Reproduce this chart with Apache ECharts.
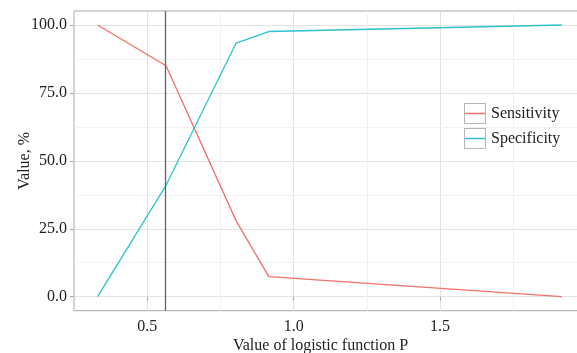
<!DOCTYPE html>
<html>
<head>
<meta charset="utf-8">
<script src="https://cdn.jsdelivr.net/npm/echarts@6/dist/echarts.min.js"></script>
<style>html,body{margin:0;padding:0;background:#fff}#c{width:577px;height:353px}</style>
</head>
<body>
<div id="c"></div>
<script>
const thresholds = [0.33, 0.564, 0.803, 0.915, 1.916];
const sensitivity = [100, 85, 28, 7.4, 0];
const specificity = [0, 41, 93.3, 97.6, 100];
const cutoff = [0.564];
const xTicks = [0.5, 1.0, 1.5];
const yTicks = [0, 25, 50, 75, 100];
const xMinor = [0.75, 1.25, 1.75];
const yMinor = [12.5, 37.5, 62.5, 87.5];

const FONT = 'Liberation Serif';
const GREY = '#a3a9ad';
const RED = '#F2706A';
const CYAN = '#2CC2CE';
const chart = echarts.init(document.getElementById('c'), null, {renderer: 'canvas'});
const minorLines = xMinor.map(v => ({xAxis: v})).concat(yMinor.map(v => ({yAxis: v})));
chart.setOption({
  animation: false,
  backgroundColor: '#fff',
  grid: {left: 74, top: 11, right: -8, bottom: 42.3, show: true, borderColor: GREY, borderWidth: 1,
    backgroundColor: 'transparent', containLabel: false, outerBoundsMode: 'none'},
  xAxis: {
    type: 'value', min: 0.2496, max: 1.995,
    axisLine: {show: false},
    axisTick: {show: true, length: 4, lineStyle: {color: GREY}, customValues: xTicks},
    axisLabel: {customValues: xTicks, formatter: v => v.toFixed(1), fontFamily: FONT, fontSize: 16, color: '#222', margin: 8},
    splitLine: {show: true, lineStyle: {color: '#e3e3e3', width: 1}},
    name: 'Value of logistic function P', nameLocation: 'middle', nameGap: 27, nameMoveOverlap: false,
    nameTextStyle: {fontFamily: FONT, fontSize: 16, color: '#222', padding: [0, 18, 0, 0]}
  },
  yAxis: {
    type: 'value', min: -5.15, max: 105.15,
    axisLine: {show: false},
    axisTick: {show: true, length: 4, lineStyle: {color: GREY}, customValues: yTicks},
    axisLabel: {customValues: yTicks, formatter: v => v.toFixed(1), fontFamily: FONT, fontSize: 16, color: '#222', margin: 7},
    splitLine: {show: true, lineStyle: {color: '#e3e3e3', width: 1}},
    name: 'Value, %', nameLocation: 'middle', nameGap: 41, nameRotate: 90, nameMoveOverlap: false,
    nameTextStyle: {fontFamily: FONT, fontSize: 16, color: '#222'}
  },
  legend: [{
    orient: 'vertical', left: 464, top: 103, padding: 0, itemWidth: 22, itemHeight: 21, itemGap: 4,
    icon: 'path://M0,0H22V21H0ZM1,20H21V1H1Z',
    itemStyle: {color: '#b5b5b5'},
    textStyle: {fontFamily: FONT, fontSize: 16, color: '#222'},
    data: ['Sensitivity', 'Specificity']
  }, {
    orient: 'vertical', left: 464, top: 103, padding: 0, itemWidth: 22, itemHeight: 21, itemGap: 4, z: 6,
    icon: 'path://M0,0L0,0ZM1,9.8H21V11.2H1ZM22,21L22,21Z',
    textStyle: {fontFamily: FONT, fontSize: 16, color: 'rgba(0,0,0,0)'},
    inactiveColor: 'rgba(0,0,0,0)',
    data: ['Sensitivity', 'Specificity']
  }],
  series: [{
    name: 'Sensitivity', type: 'line', showSymbol: false, symbol: 'none', z: 2,
    color: RED, lineStyle: {width: 1.3, color: RED},
    data: thresholds.map((x, i) => [x, sensitivity[i]]),
    markLine: {silent: true, symbol: 'none', z: 1, label: {show: false},
      lineStyle: {color: '#f1f1f1', width: 1, type: 'solid'}, data: minorLines}
  }, {
    name: 'Specificity', type: 'line', showSymbol: false, symbol: 'none', z: 2,
    color: CYAN, lineStyle: {width: 1.3, color: CYAN},
    data: thresholds.map((x, i) => [x, specificity[i]]),
    markLine: {silent: true, symbol: 'none', z: 3, label: {show: false},
      lineStyle: {color: '#5b666d', width: 1.3, type: 'solid'}, data: cutoff.map(v => ({xAxis: v}))}
  }]
});
</script>
</body>
</html>
